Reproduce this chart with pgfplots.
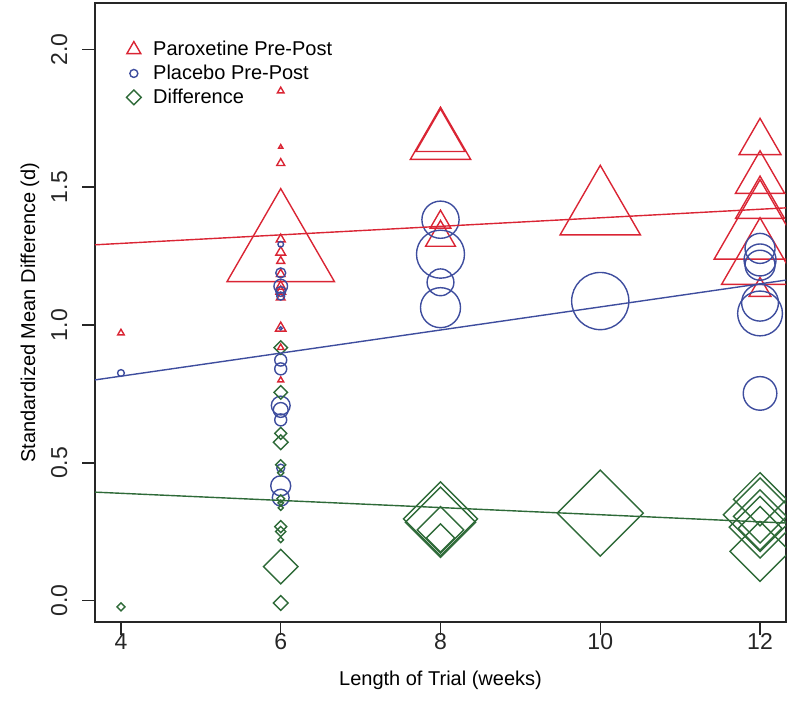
\documentclass[border=0pt]{standalone}
\usepackage{pgfplots}
\usepackage{pgfplotstable}
\pgfplotsset{compat=1.18}
\usepackage{fontspec}
\setmainfont{Liberation Sans}
\definecolor{pred}{RGB}{218,37,52}
\definecolor{pblue}{RGB}{62,77,158}
\definecolor{pgreen}{RGB}{46,106,56}

% x = weeks, y = d, s = marker size (pt)
\pgfplotstableread{
x y s
4 0.971 1.9
6 1.849 1.9
6 1.646 1.2
6 1.587 2.3
6 1.270 31
6 1.311 2.6
6 1.264 2.8
6 1.232 2.3
6 1.185 2.5
6 1.140 2.8
6 1.122 2.8
6 1.100 2.5
6 0.989 3.0
6 0.918 1.8
6 0.800 1.7
8 1.664 17.4
8 1.681 14.2
8 1.373 6.0
8 1.317 8.6
10 1.411 23.2
12 1.662 12.1
12 1.529 14.2
12 1.438 14.1
12 1.335 26.5
12 1.228 22.2
12 1.127 6.3
}\parox

\pgfplotstableread{
x y s
4 0.826 1.7
6 1.293 1.4
6 1.189 2.5
6 1.141 3.4
6 1.122 2.5
6 1.105 2.0
6 0.988 0.8
6 0.873 3.0
6 0.841 3.0
6 0.708 4.7
6 0.692 3.7
6 0.656 3.0
6 0.481 2.0
6 0.417 5.0
6 0.374 4.2
8 1.382 9.3
8 1.257 12
8 1.155 6.7
8 1.063 10
10 1.087 14.3
12 1.278 7.5
12 1.236 8
12 1.217 7.5
12 1.081 9.2
12 1.042 11.2
12 0.752 8.4
}\placebo

\pgfplotstableread{
x y s
4 -0.022 1.4
6 0.918 2.4
6 0.756 2.4
6 0.607 2.1
6 0.575 2.6
6 0.493 1.8
6 0.464 1.1
6 0.370 1.4
6 0.355 1.0
6 0.337 0.9
6 0.269 2.1
6 0.251 1.8
6 0.221 1.0
6 0.124 6.1
6 -0.008 2.6
8 0.297 13.1
8 0.285 12.4
8 0.257 8.2
8 0.228 5.0
10 0.318 15.2
12 0.368 9.4
12 0.312 13.0
12 0.306 9.4
12 0.267 10.9
12 0.263 7.7
12 0.179 10.6
}\diff

\pgfplotsset{
  bub/.style={scatter, only marks, forget plot,
    visualization depends on={\thisrow{s} \as \perpointmarksize},
    scatter/@pre marker code/.code={\scope[mark size=\perpointmarksize pt, draw=#1, fill=none, line width=0.7pt]},
    scatter/@post marker code/.code={\endscope}},
}

\begin{document}
\begin{tikzpicture}
\useasboundingbox (-47.5pt,-50pt) rectangle (347.5pt,311pt);
\begin{axis}[
  at={(0,0)}, anchor=south west,
  scale only axis, width=345.5pt, height=309.5pt,
  xmin=3.675, xmax=12.325, ymin=-0.077, ymax=2.168,
  clip marker paths=true,
  xtick={4,6,8,10,12}, xticklabels={4,6,8,10,12},
  ytick={0,0.5,1,1.5,2}, yticklabels={0.0,0.5,1.0,1.5,2.0},
  tick pos=left, tick align=outside, major tick length=6.25pt,
  axis line style={black!85, line width=0.7pt},
  every tick/.style={black!85, line width=0.7pt},
  ticklabel style={font=\fontsize{11.5}{13}\selectfont, text=black!85},
  yticklabel style={rotate=90, anchor=south},
  xticklabel shift=-4pt, yticklabel shift=4pt,
  label style={font=\fontsize{11.5}{13}\selectfont, text=black!85},
  xlabel={Length of Trial (weeks)},
  ylabel={Standardized Mean Difference (d)},
  every axis x label/.style={at={(axis description cs:0.5,-0.0937)}, anchor=center},
  every axis y label/.style={at={(axis description cs:-0.094,0.5)}, anchor=center, rotate=90},
  legend style={draw=none, fill=none, at={(axis description cs:0.045,0.946)}, anchor=north west,
    font=\fontsize{10}{12}\selectfont, row sep=-0.8pt, inner sep=0pt,
    /tikz/every odd column/.append style={column sep=4pt}},
  legend cell align=left,
  legend image code/.code={\draw[#1] plot coordinates {(0.15cm,0cm)};},
]
\addplot[bub=pred, mark=triangle] table[x=x,y=y] {\parox};
\addplot[bub=pblue, mark=o] table[x=x,y=y] {\placebo};
\addplot[bub=pgreen, mark=square, mark options={rotate=45}] table[x=x,y=y] {\diff};

\addplot[pred, line width=0.7pt, forget plot] coordinates {(3.675,1.291) (12.325,1.425)};
\addplot[pblue, line width=0.7pt, forget plot] coordinates {(3.675,0.801) (12.325,1.163)};
\addplot[pgreen, line width=0.7pt, forget plot] coordinates {(3.675,0.394) (12.325,0.282)};

\addlegendimage{only marks, mark=triangle, pred, mark size=4pt, line width=0.7pt}
\addlegendentry{Paroxetine Pre-Post}
\addlegendimage{only marks, mark=o, pblue, mark size=2pt, line width=0.7pt}
\addlegendentry{Placebo Pre-Post}
\addlegendimage{only marks, mark=square, mark options={rotate=45}, pgreen, mark size=2.6pt, line width=0.7pt}
\addlegendentry{Difference}
\end{axis}
\end{tikzpicture}
\end{document}
